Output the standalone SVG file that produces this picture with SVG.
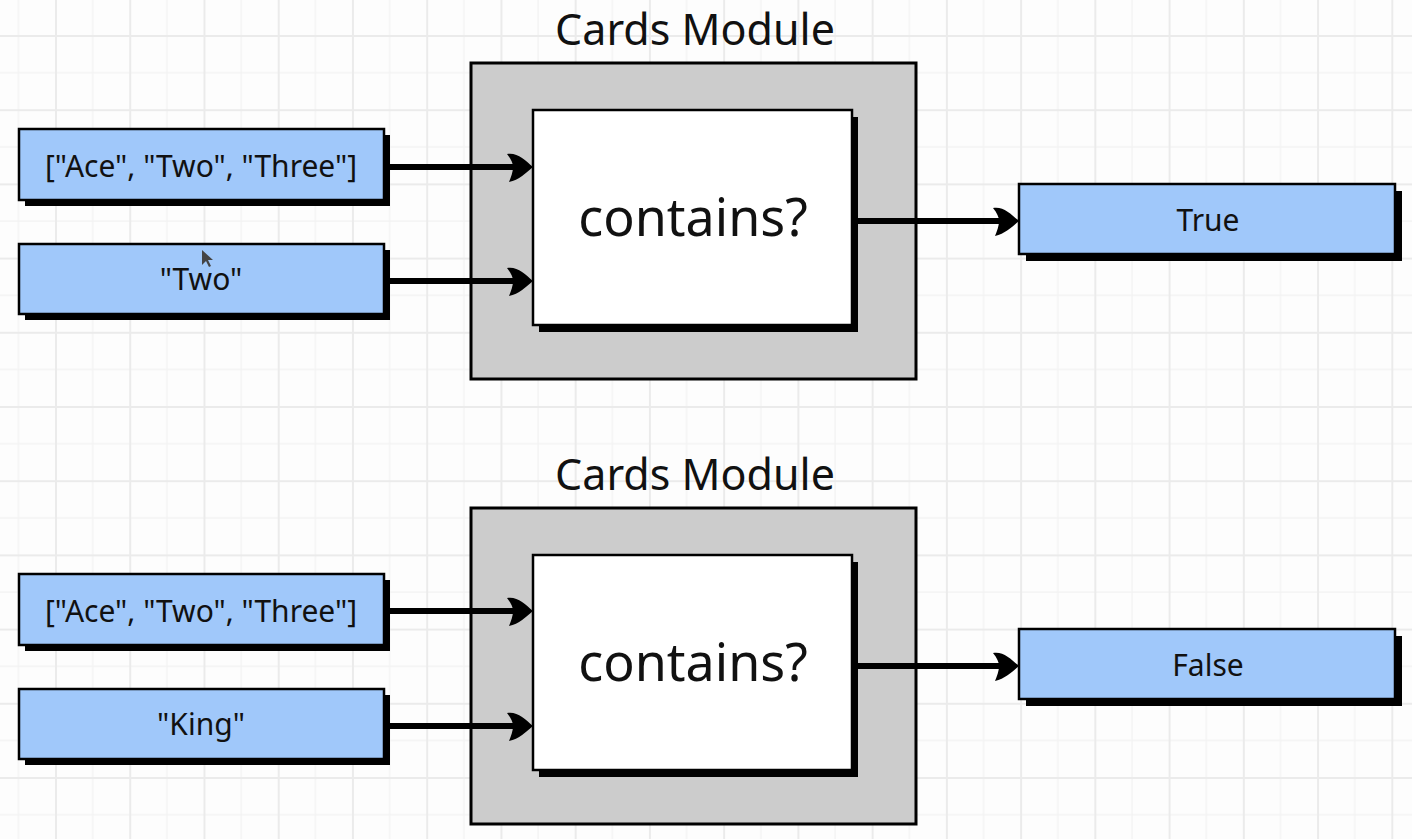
<svg xmlns="http://www.w3.org/2000/svg" width="1412" height="839" viewBox="0 0 1412 839">
  <style>
    .bg { fill: #fdfdfd; }
    .shadow { fill: #000000; }
    .val { fill: #a0c8fa; stroke: #000000; stroke-width: 2.5; }
    .outer { fill: #cccccc; stroke: #000000; stroke-width: 3; }
    .inner { fill: #ffffff; stroke: #000000; stroke-width: 2.5; }
    .title { font-family: "Noto Sans", "Liberation Sans", sans-serif; font-size: 43px; fill: #111111; text-anchor: middle; }
    .fn { font-family: "Noto Sans", "Liberation Sans", sans-serif; font-size: 52px; fill: #111111; text-anchor: middle; }
    .lbl { font-family: "Noto Sans", "Liberation Sans", sans-serif; font-size: 30px; fill: #111111; text-anchor: middle; }
    .conn { fill: none; stroke: #000000; stroke-width: 6; }
  </style>
  <defs>
    <pattern id="grid" patternUnits="userSpaceOnUse" x="55" y="35" width="74.24" height="74.2">
      <rect x="37.1" y="0" width="1.2" height="74.2" fill="#f2f2f2"/>
      <rect x="0" y="37.1" width="74.24" height="1.2" fill="#f2f2f2"/>
      <rect x="0" y="0" width="2" height="74.2" fill="#ebebeb"/>
      <rect x="0" y="0" width="74.24" height="2" fill="#ebebeb"/>
    </pattern>
    <marker id="head" markerUnits="userSpaceOnUse" viewBox="-30 -17 32 34" markerWidth="32" markerHeight="34" refX="-15" refY="0" orient="auto" overflow="visible">
      <path d="M 0 0 C -8 -7, -16 -15, -26 -13 C -22 -8, -20 -4, -20 0 C -20 5, -22 10, -24 15 C -14 13, -7 6, 0 0 Z" fill="#000000"/>
    </marker>
  </defs>

  <rect class="bg" x="0" y="0" width="1412" height="839"/>
  <rect x="0" y="0" width="1412" height="839" fill="url(#grid)"/>

  <!-- Top panel -->
  <g id="module-top">
    <text class="title" x="695" y="45">Cards Module</text>
    <rect class="outer" x="471" y="63" width="445" height="316"/>
    <rect class="shadow" x="539" y="117" width="319" height="215"/>
    <rect class="inner" x="533" y="110" width="319" height="215"/>
    <text class="fn" x="693" y="236">contains?</text>
  </g>
  <g id="input-list-top">
    <rect class="shadow" x="25" y="135" width="365" height="71"/>
    <rect class="val" x="19" y="129" width="365" height="71"/>
    <text class="lbl" x="201" y="177">["Ace", "Two", "Three"]</text>
  </g>
  <g id="input-item-top">
    <rect class="shadow" x="25" y="250" width="365" height="70"/>
    <rect class="val" x="19" y="244" width="365" height="70"/>
    <text class="lbl" x="201" y="290">"Two"</text>
    <path d="M 202 250 L 202 265 L 206 261 L 209 267 L 211 266 L 208 260 L 213 260 Z" fill="#444444"/>
  </g>
  <g id="output-top">
    <rect class="shadow" x="1026" y="191" width="376" height="70"/>
    <rect class="val" x="1019" y="184" width="376" height="70"/>
    <text class="lbl" x="1208" y="231">True</text>
  </g>

  <!-- Bottom panel -->
  <g id="module-bottom">
    <text class="title" x="695" y="490">Cards Module</text>
    <rect class="outer" x="471" y="508" width="445" height="316"/>
    <rect class="shadow" x="539" y="562" width="319" height="215"/>
    <rect class="inner" x="533" y="555" width="319" height="215"/>
    <text class="fn" x="693" y="681">contains?</text>
  </g>
  <g id="input-list-bottom">
    <rect class="shadow" x="25" y="580" width="365" height="71"/>
    <rect class="val" x="19" y="574" width="365" height="71"/>
    <text class="lbl" x="201" y="622">["Ace", "Two", "Three"]</text>
  </g>
  <g id="input-item-bottom">
    <rect class="shadow" x="25" y="695" width="365" height="70"/>
    <rect class="val" x="19" y="689" width="365" height="70"/>
    <text class="lbl" x="201" y="735">"King"</text>
  </g>
  <g id="output-bottom">
    <rect class="shadow" x="1026" y="636" width="376" height="70"/>
    <rect class="val" x="1019" y="629" width="376" height="70"/>
    <text class="lbl" x="1208" y="676">False</text>
  </g>

  <g id="connectors">
    <path class="conn" d="M 390 167 H 518" marker-end="url(#head)"/>
    <path class="conn" d="M 390 281 H 518" marker-end="url(#head)"/>
    <path class="conn" d="M 858 221 H 1004" marker-end="url(#head)"/>
    <path class="conn" d="M 390 611 H 518" marker-end="url(#head)"/>
    <path class="conn" d="M 390 726 H 518" marker-end="url(#head)"/>
    <path class="conn" d="M 858 666 H 1004" marker-end="url(#head)"/>
  </g>
</svg>
